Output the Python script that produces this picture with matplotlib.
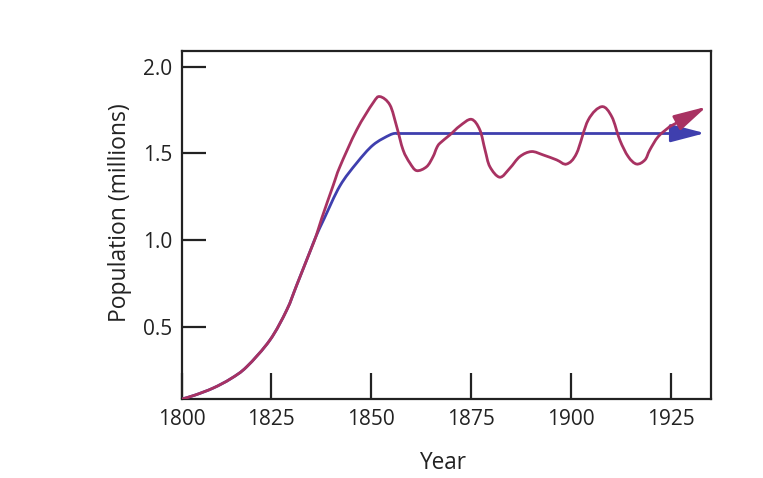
import matplotlib
matplotlib.use('Agg')
import matplotlib.pyplot as plt
from matplotlib.patches import FancyArrowPatch, PathPatch
from matplotlib.path import Path

plt.rcParams['font.family'] = ['Open Sans', 'DejaVu Sans']

# shared early growth (both curves)
common_years = [1802.8, 1806.0, 1810.6, 1815.0, 1819.0, 1824.8, 1829.0, 1831.5, 1834.8, 1836.3]
common_pop = [0.083, 0.105, 0.146, 0.200, 0.269, 0.423, 0.596, 0.740, 0.932, 1.020]

# logistic-type curve, levels off at carrying capacity
blue_years = [1838.4, 1842.3, 1846.5, 1850.6, 1854.8, 1856.5, 1926.0]
blue_pop = [1.125, 1.312, 1.444, 1.548, 1.606, 1.616, 1.616]
blue_tip = (1933.6, 1.616)

# oscillating real population
red_years = [1837.75, 1840.65, 1842.3, 1846.5, 1850.6, 1852.3, 1854.8, 1856.5, 1858.1, 1859.8,
             1861.5, 1864.0, 1865.6, 1866.5, 1867.3, 1869.8, 1872.3, 1875.2, 1877.3,
             1878.6, 1879.8, 1882.3, 1884.8, 1887.3, 1890.2, 1893.2, 1896.5, 1899.0,
             1901.5, 1904.4, 1907.8, 1910.3, 1912.3, 1914.4, 1916.5, 1918.6, 1919.8,
             1921.9, 1924.8]
red_pop = [1.125, 1.317, 1.423, 1.635, 1.791, 1.827, 1.779, 1.654, 1.519, 1.444,
           1.400, 1.423, 1.481, 1.531, 1.558, 1.606, 1.658, 1.696, 1.635,
           1.519, 1.423, 1.362, 1.414, 1.481, 1.510, 1.490, 1.462, 1.438,
           1.500, 1.692, 1.769, 1.711, 1.577, 1.481, 1.438, 1.462, 1.519,
           1.596, 1.654]
red_tip = (1934.0, 1.769)

x_ticks = [1825, 1850, 1875, 1900, 1925]
x_labels = ['1800', '1825', '1850', '1875', '1900', '1925']
y_ticks = [0.5, 1.0, 1.5, 2.0]
y_labels = ['0.5', '1.0', '1.5', '2.0']

blue = '#3f3fae'
red = '#a83262'
ink = '#222222'


def smooth_path(xs, ys):
    # catmull-rom through the read points, drawn as cubic bezier segments
    pts = list(zip(xs, ys))
    verts = [pts[0]]
    codes = [Path.MOVETO]
    for i in range(len(pts) - 1):
        p0 = pts[max(i - 1, 0)]
        p1 = pts[i]
        p2 = pts[i + 1]
        p3 = pts[min(i + 2, len(pts) - 1)]
        c1 = (p1[0] + (p2[0] - p0[0]) / 6, p1[1] + (p2[1] - p0[1]) / 6)
        c2 = (p2[0] - (p3[0] - p1[0]) / 6, p2[1] - (p3[1] - p1[1]) / 6)
        verts += [c1, c2, p2]
        codes += [Path.CURVE4] * 3
    return Path(verts, codes)


fig = plt.figure(figsize=(7.63, 4.78), dpi=100)
ax = fig.add_axes([0.2385, 0.1653, 0.6933, 0.728])

# blue: smooth rise, then straight plateau
ax.add_patch(PathPatch(smooth_path(common_years + blue_years[:-1], common_pop + blue_pop[:-1]),
                       fill=False, edgecolor=blue, lw=2.0, zorder=3))
ax.plot(blue_years[-2:], blue_pop[-2:], color=blue, lw=2.0, zorder=3)
ax.add_patch(FancyArrowPatch((blue_years[-1], blue_pop[-1]), blue_tip,
                             arrowstyle='-|>,head_length=21,head_width=5.5',
                             mutation_scale=1, color=blue, lw=2.0,
                             shrinkA=0, shrinkB=0, zorder=3))

ax.add_patch(PathPatch(smooth_path(common_years + red_years, common_pop + red_pop),
                       fill=False, edgecolor=red, lw=2.0, zorder=4))
ax.add_patch(FancyArrowPatch((red_years[-1], red_pop[-1]), red_tip,
                             arrowstyle='-|>,head_length=20,head_width=5',
                             mutation_scale=1, color=red, lw=2.0,
                             shrinkA=0, shrinkB=0, zorder=4))

ax.set_xlim(1802.8, 1935.1)
ax.set_ylim(0.083, 2.09)

ax.set_xticks([ax.get_xlim()[0]] + x_ticks)
ax.set_xticklabels(x_labels)
ax.set_yticks(y_ticks)
ax.set_yticklabels(y_labels)

ax.tick_params(axis='x', direction='in', length=18.5, width=1.6, pad=7,
               labelsize=15, colors=ink)
ax.tick_params(axis='y', direction='in', length=17, width=1.6, pad=7,
               labelsize=15, colors=ink)
for s in ax.spines.values():
    s.set_linewidth(1.6)
    s.set_color(ink)

ax.set_xlabel('Year', fontsize=16.3, color=ink)
ax.xaxis.set_label_coords(0.493, -0.150)
fig.text(120 / 763, 1 - 213 / 478, 'Population (millions)', rotation=90,
         ha='center', va='center', fontsize=16.5, color=ink)

fig.savefig('out.png', dpi=100)
